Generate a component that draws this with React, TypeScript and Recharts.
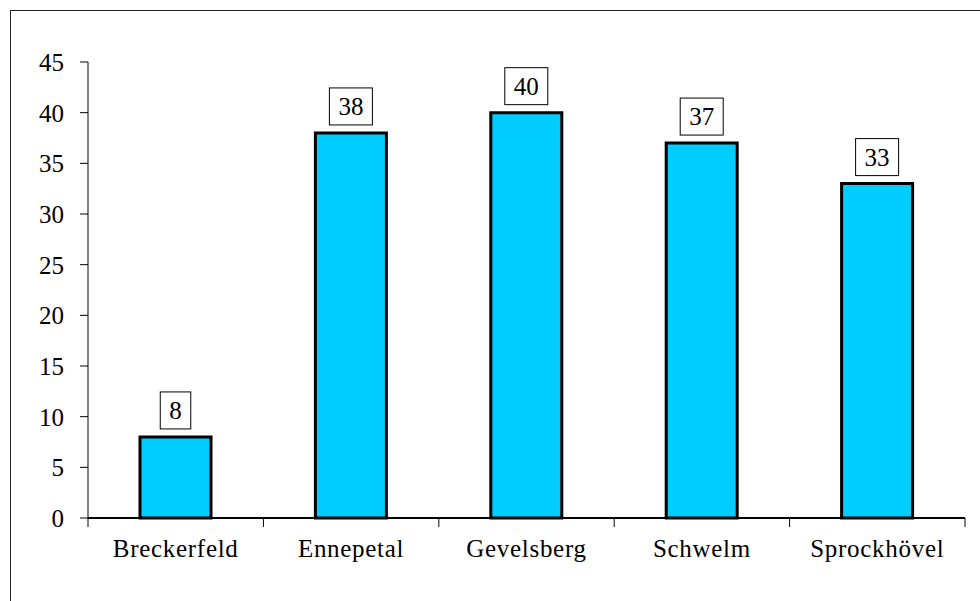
import React from 'react';
import { BarChart, Bar, XAxis, YAxis, LabelList } from 'recharts';

const towns = ['Breckerfeld', 'Ennepetal', 'Gevelsberg', 'Schwelm', 'Sprockhövel'];
const counts = [8, 38, 40, 37, 33];
const yTicks = [0, 5, 10, 15, 20, 25, 30, 35, 40, 45];

const data = towns.map((name, i) => ({ name, value: counts[i] }));

const W = 980;
const H = 601;
const X_AXIS_H = 30;
const MARGIN = { top: 62, right: 15, bottom: 83 - X_AXIS_H, left: 28 };
const Y_AXIS_W = 60;
const PLOT_W = W - MARGIN.left - MARGIN.right - Y_AXIS_W;
const BAND = PLOT_W / towns.length;
const FONT = 'Liberation Serif, Times New Roman, serif';

const CategoryTick = (props: any) => {
  const { x, y, payload, index } = props;
  const left = x - BAND / 2;
  const right = x + BAND / 2;
  return (
    <g>
      <line x1={left} y1={y - 9} x2={left} y2={y} stroke="#000" strokeWidth={1} />
      {index === towns.length - 1 && (
        <line x1={right} y1={y - 9} x2={right} y2={y} stroke="#000" strokeWidth={1} />
      )}
      <text
        x={x}
        y={y + 30}
        textAnchor="middle"
        fontFamily={FONT}
        fontSize={25}
        letterSpacing={0.7}
        fill="#000"
      >
        {payload.value}
      </text>
    </g>
  );
};

const BoxLabel = (props: any) => {
  const { x, y, width, value } = props;
  const text = String(value);
  const w = text.length * 12.5 + 18;
  const h = 37;
  const cx = x + width / 2;
  const bottom = y - 8;
  return (
    <g>
      <rect x={cx - w / 2} y={bottom - h} width={w} height={h} fill="#fff" stroke="#000" strokeWidth={1} />
      <text x={cx} y={bottom - 10} textAnchor="middle" fontFamily={FONT} fontSize={25} fill="#000">
        {text}
      </text>
    </g>
  );
};

export default function App() {
  return (
    <div style={{ position: 'absolute', left: 0, top: 0, width: W, height: H, overflow: 'hidden', background: '#fff' }}>
      <div
        style={{
          position: 'absolute',
          left: 10,
          top: 10,
          width: W,
          height: H,
          borderLeft: '1px solid #222',
          borderTop: '1px solid #222',
        }}
      />
      <div style={{ position: 'absolute', left: 0, top: 0 }}>
        <BarChart width={W} height={H} data={data} margin={MARGIN}>
          <XAxis
            dataKey="name"
            height={X_AXIS_H}
            tickLine={false}
            tickSize={9}
            tickMargin={0}
            axisLine={{ stroke: '#000', strokeWidth: 2 }}
            tick={<CategoryTick />}
            interval={0}
          />
          <YAxis
            domain={[0, 45]}
            ticks={yTicks}
            width={Y_AXIS_W}
            tickSize={8}
            tickMargin={16}
            axisLine={{ stroke: '#000', strokeWidth: 1 }}
            tickLine={{ stroke: '#000', strokeWidth: 1 }}
            tick={{ fontFamily: FONT, fontSize: 25, fill: '#000' }}
            interval={0}
          />
          <Bar dataKey="value" fill="#00CCFF" stroke="#000" strokeWidth={3} barSize={71} isAnimationActive={false}>
            <LabelList dataKey="value" content={<BoxLabel />} />
          </Bar>
        </BarChart>
      </div>
    </div>
  );
}
